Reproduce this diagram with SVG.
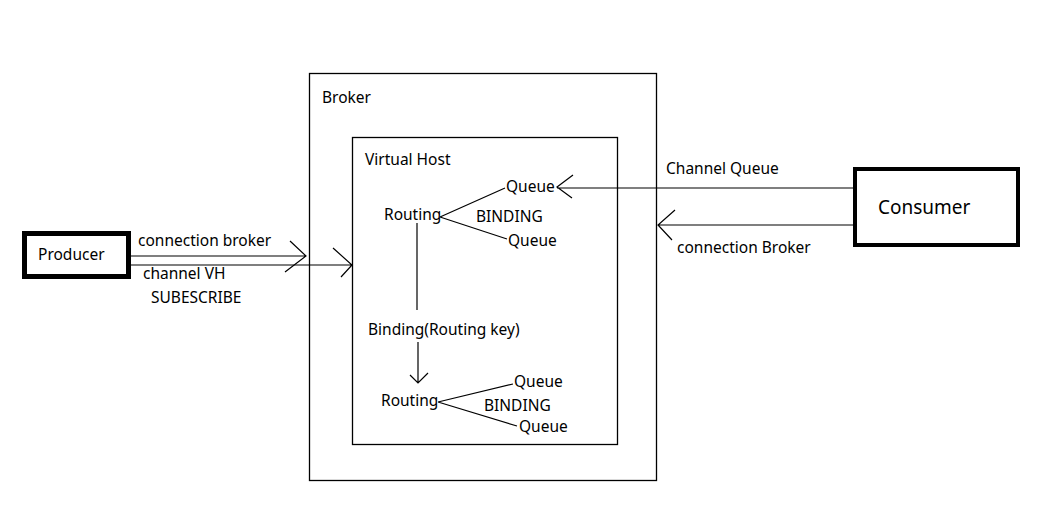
<svg xmlns="http://www.w3.org/2000/svg" width="1053" height="520" viewBox="0 0 1053 520">
<style>
text{font-family:"Noto Sans","Open Sans","Liberation Sans",sans-serif;font-size:15.5px;fill:#000}
.big{font-size:19px}
.box{fill:#fff;stroke:#000}
.ln{fill:none;stroke:#000;stroke-width:1.2}
</style>
<rect width="1053" height="520" fill="#fff"/>
<g id="broker">
<rect class="box" x="309.5" y="73.5" width="347" height="407" stroke-width="1.3"/>
<text x="322" y="103">Broker</text>
</g>
<g id="virtual-host">
<rect class="box" x="352.5" y="137.5" width="265" height="307" stroke-width="1.3"/>
<text x="365" y="165">Virtual Host</text>
</g>
<g id="producer">
<rect class="box" x="24.5" y="233.5" width="104" height="43" stroke-width="5"/>
<text x="38" y="260">Producer</text>
</g>
<g id="consumer">
<rect class="box" x="855" y="169" width="163" height="76" stroke-width="4"/>
<text class="big" x="878" y="214">Consumer</text>
</g>
<g id="routing1"><text x="384" y="220">Routing</text></g>
<g id="queue1"><text x="506" y="192">Queue</text></g>
<g id="queue2"><text x="508" y="246">Queue</text></g>
<g id="routing2"><text x="381" y="406">Routing</text></g>
<g id="queue3"><text x="514" y="387">Queue</text></g>
<g id="queue4"><text x="519" y="432">Queue</text></g>
<g id="connectors">
<path class="ln" d="M131 256H306M290 241L306 256L285 272"/>
<path class="ln" d="M131 265H352M333 248L352 265L341 277"/>
<path class="ln" d="M855 188H557M573 175L557 187L572 198"/>
<path class="ln" d="M855 225H658M675 210L658 225L672 240"/>
<path class="ln" d="M440 217L505 188M440 217L507 239"/>
<path class="ln" d="M417 223V310"/>
<path class="ln" d="M418 342V383M410 375L418 383L428 373"/>
<path class="ln" d="M438 402L513 384M438 402L517 426"/>
<text x="138" y="246">connection broker</text>
<text x="143" y="279">channel VH</text>
<text x="151" y="303">SUBESCRIBE</text>
<text x="666" y="174">Channel Queue</text>
<text x="677" y="253">connection Broker</text>
<text x="476" y="222">BINDING</text>
<text x="368" y="335">Binding(Routing key)</text>
<text x="484" y="411">BINDING</text>
</g>
</svg>
